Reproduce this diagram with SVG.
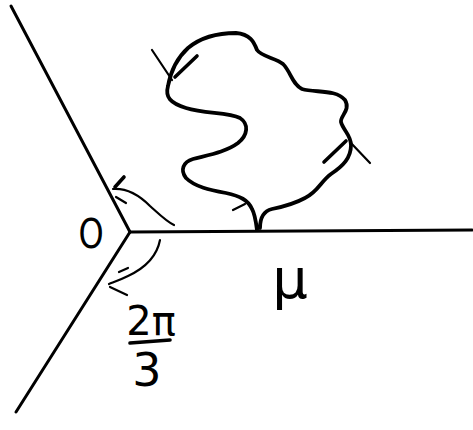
<svg xmlns="http://www.w3.org/2000/svg" width="473" height="430" viewBox="0 0 473 430">
<style>
.ln{fill:none;stroke:#000;stroke-linecap:round;stroke-linejoin:round}
.ray{stroke-width:3}
.thin{stroke-width:2.2}
.loop{stroke-width:3.8}
.tick{stroke-width:3.6}
.t{font-family:"DejaVu Sans","Liberation Sans",sans-serif;fill:#000}
</style>
<rect width="473" height="430" fill="#fff"/>
<g id="rays">
<path class="ln ray" d="M11,6 L130,232"/>
<path class="ln ray" d="M130,232 L472,230"/>
<path class="ln ray" d="M130,232 L16,412"/>
</g>
<g id="angle-upper">
<path class="ln thin" d="M113,189 C127,188 140,196 150,206 C160,215 167,222 174,225"/>
<path class="ln tick" d="M115,187 L124,177"/>
<path class="ln thin" d="M116,197 L126,203"/>
</g>
<g id="angle-lower">
<path class="ln thin" d="M160,240 C157,256 145,268 128,276 C120,280 114,282 109,284"/>
<path class="ln thin" d="M110,287 L127,295"/>
<path class="ln thin" d="M119,272 L128,268"/>
</g>
<g id="loop">
<path class="ln loop" d="M257,230 C256,222 255,214 252,209 C248,200 240,196 226,193 C210,190 195,187 186,178 C180,170 183,162 193,159 C208,155 226,152 238,143 C248,135 249,124 240,118 C228,112 205,114 186,108 C170,103 165,97 168,86 C171,70 177,58 188,48 C200,38 218,33 236,33 C250,34 254,42 257,50 C262,57 276,58 283,64 C291,72 292,84 302,89 C315,93 336,89 345,100 C351,110 340,116 341,122 C343,130 351,135 351,145 C351,158 343,166 331,174 C321,181 318,192 305,198 C294,204 282,207 272,209 C264,211 260,218 260,228"/>
<path class="ln thin" d="M152,50 L172,80"/>
<path class="ln tick" d="M175,77 L197,56"/>
<path class="ln tick" d="M324,162 L346,141"/>
<path class="ln thin" d="M350,142 L370,163"/>
<path class="ln thin" d="M233,210 L245,204"/>
</g>
<g id="labels">
<text class="t" x="91" y="248" font-size="40" text-anchor="middle" transform="translate(91 0) scale(0.8 1) translate(-91 0)">O</text>
<text class="t" x="290" y="298" font-size="56" text-anchor="middle">μ</text>
<text class="t" x="151" y="335" font-size="40" text-anchor="middle">2π</text>
<path class="ln tick" d="M130,343 L170,340"/>
<text class="t" x="147" y="386" font-size="46" text-anchor="middle">3</text>
</g>
</svg>
